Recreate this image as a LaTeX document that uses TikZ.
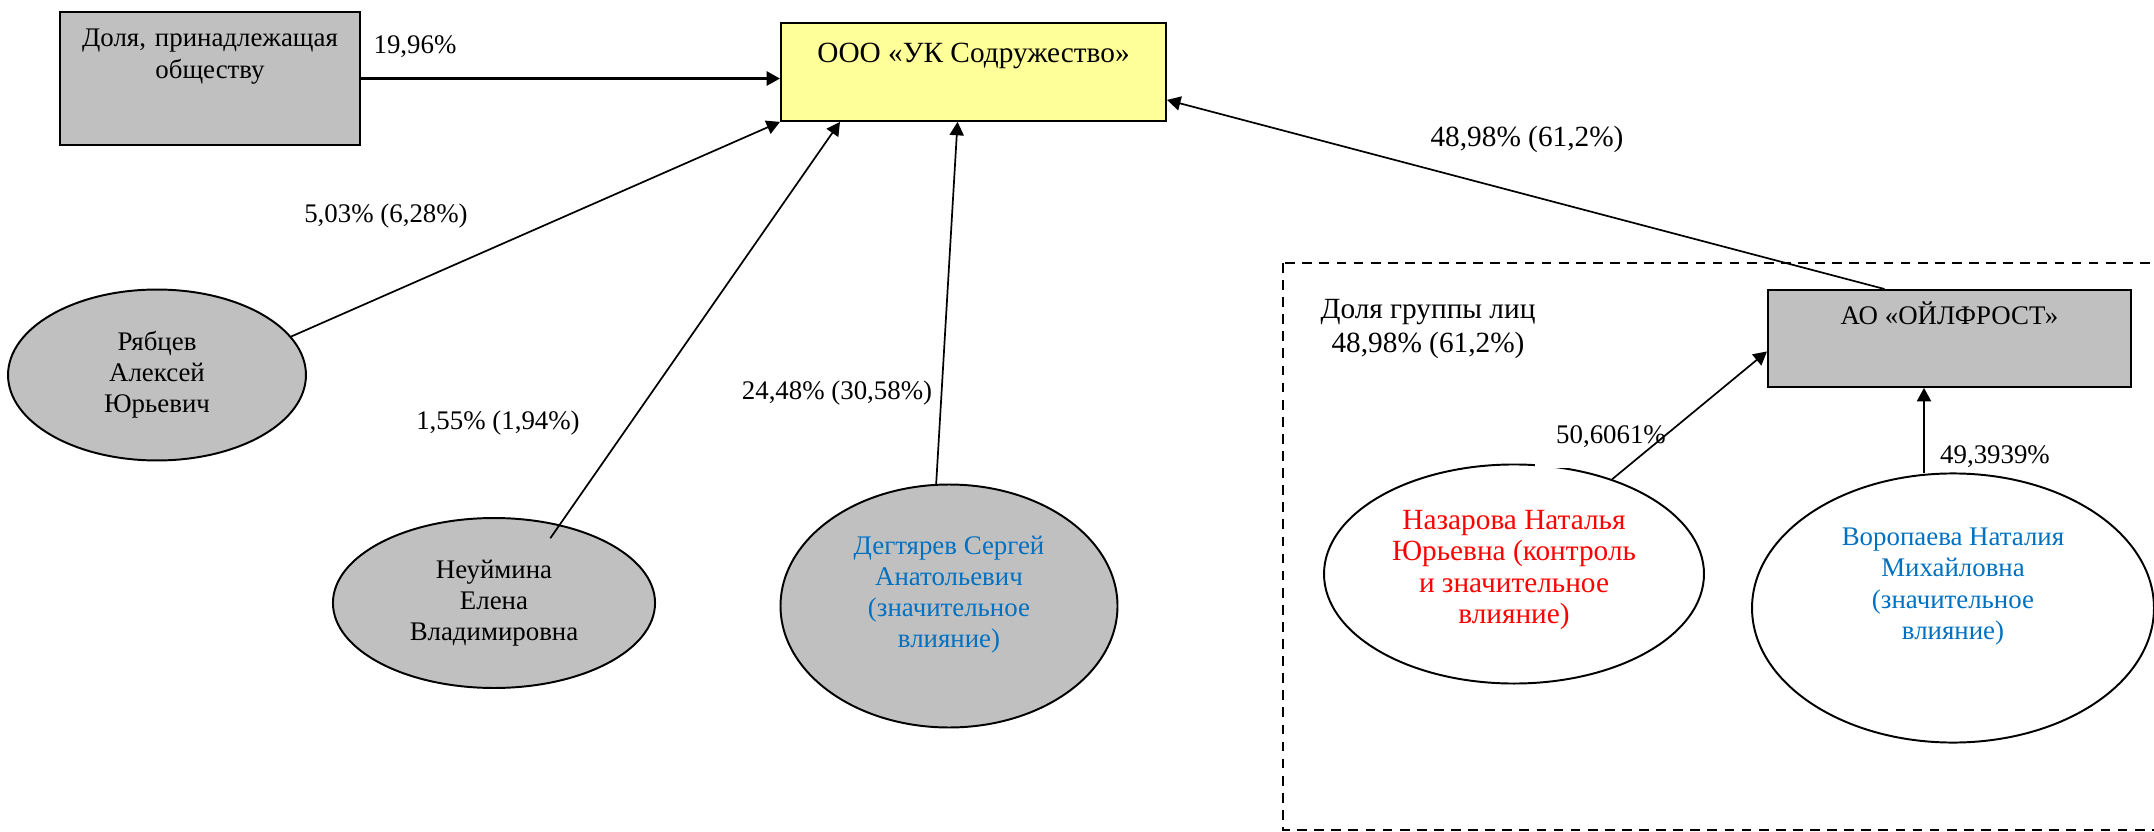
\documentclass[tikz,border=0pt]{standalone}
\usepackage{fontspec}
\setmainfont{Liberation Serif}
\usepackage{tikz}
\usetikzlibrary{positioning, shapes.geometric, arrows.meta, calc}
\definecolor{boxgrey}{HTML}{C0C0C0}
\definecolor{boxyellow}{HTML}{FFFF99}
\definecolor{inflblue}{HTML}{0070C0}
\definecolor{ctrlred}{HTML}{FF0000}

\begin{document}
\begin{tikzpicture}[x=0.4095pt, y=-0.4095pt,
    font=\fontsize{11}{12.7}\selectfont,
    bigtext/.style={font=\fontsize{12}{12.8}\selectfont},
    firm/.style={rectangle, draw, line width=0.8pt, anchor=north west, inner ysep=0pt},
    person/.style={ellipse, draw, line width=0.8pt, align=center},
    pct/.style={inner sep=1pt},
    arr/.style={-{Triangle[length=5.5pt, width=5.8pt]}, line width=0.7pt}]
\useasboundingbox (0,0) rectangle (2154,832);
\clip (0,0) rectangle (2154,832);

% group frame
\draw[dash pattern=on 4pt off 3pt, line width=0.7pt] (1283,263) rectangle (2175,830);
\node[bigtext, align=center] (grplbl) at (1428,329) {Доля группы лиц\\[1pt]48,98\% (61,2\%)};

\node[firm, fill=boxgrey, inner xsep=0pt, text width=122.9pt, align=center, text height=14.3pt, text depth=40.2pt] (dolya) at (59,11) {Доля, принадлежащая\\[0.4pt]обществу};
\node[firm, bigtext, fill=boxyellow, minimum width=157.7pt, text height=16pt, text depth=24.1pt] (ooo) at (780,22) {ООО «УК Содружество»};
\node[firm, fill=boxgrey, minimum width=148.6pt, text height=14.3pt, text depth=25.4pt] (ao) at (1767,289) {АО «ОЙЛФРОСТ»};

\node[person, fill=boxgrey, minimum width=122pt, minimum height=70pt] (ryab) at (157,375) {Рябцев\\Алексей\\Юрьевич};
\node[person, fill=boxgrey, minimum width=131.9pt, minimum height=69.6pt] (neuym) at (494,603) {Неуймина\\Елена\\Владимировна};
\node[person, fill=boxgrey, text=inflblue, minimum width=138pt, minimum height=99.5pt] (degt) at (949,606) {Дегтярев Сергей\\Анатольевич\\(значительное\\влияние)\\[-1pt]\mbox{}};
\node[person, bigtext, text=ctrlred, minimum width=155.6pt, minimum height=89.7pt] (naz) at (1514,574) {Назарова Наталья\\Юрьевна (контроль\\и значительное\\влияние)\\[-7pt]\mbox{}};
\node[person, text=inflblue, minimum width=164.6pt, minimum height=110.2pt] (vorop) at (1953,608) {Воропаева Наталия\\Михайловна\\(значительное\\влияние)\\[7.2pt]\mbox{}};

% shares
\node[pct] (p1996) at (415,47) {19,96\%};
\node[pct] (p503) at (386,216) {5,03\% (6,28\%)};
\node[pct] (p155) at (498,423) {1,55\% (1,94\%)};
\node[pct] (p2448) at (837,393) {24,48\% (30,58\%)};
\node[pct, bigtext] (p4898) at (1527,139) {48,98\% (61,2\%)};
\node[pct, fill=white, inner xsep=8.6pt, inner ysep=8pt] (p506) at (1611,437) {50,6061\%};
\node[pct] (p4939) at (1995,457) {49,3939\%};

\draw[arr, line width=1pt] (dolya.east) -- (dolya.east -| ooo.west);
\draw[arr] (ryab.16) -- (ooo.south west);
\draw[arr] ($(neuym.center)!0.83!(neuym.49)$) -- ($(ooo.south west)+(60,0)$);
\draw[arr] (degt.96) -- ($(ooo.south)+(-16,0)$);
\draw[arr] ($(ao.north)+(-65,0)$) -- ($(ooo.east)+(0,28)$);
\draw[arr] (naz.44) -- ($(ao.west)+(0,13)$);
\coordinate (vtop) at ($(vorop.north)+(-29,1)$);
\draw[arr] (vtop) -- (vtop |- ao.south);
\end{tikzpicture}
\end{document}
